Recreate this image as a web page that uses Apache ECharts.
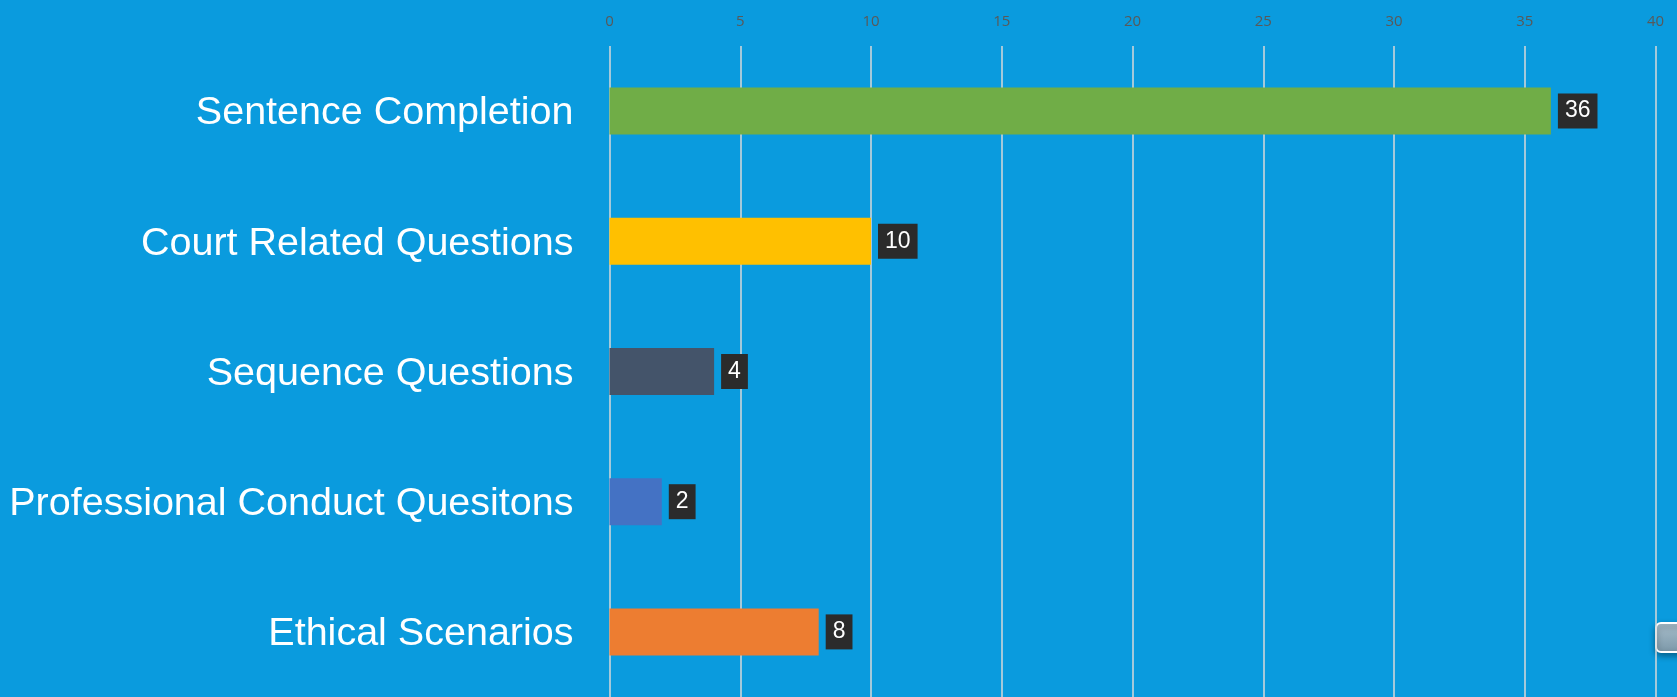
<!DOCTYPE html>
<html>
<head>
<meta charset="utf-8">
<script src="https://cdn.jsdelivr.net/npm/echarts@6/dist/echarts.min.js"></script>
<style>
html,body{margin:0;padding:0;background:#0a9bde;}
#chart{width:1677px;height:697px;}
</style>
</head>
<body>
<div id="chart"></div>
<script>
var categories = ['Sentence Completion', 'Court Related Questions', 'Sequence Questions', 'Professional Conduct Quesitons', 'Ethical Scenarios'];
var values = [36, 10, 4, 2, 8];
var barColors = ['#70ad47', '#ffc000', '#44546a', '#4472c4', '#ed7d31'];
var xTicks = [0, 5, 10, 15, 20, 25, 30, 35, 40];

var FONT = '"Liberation Sans", Arial, sans-serif';
var chart = echarts.init(document.getElementById('chart'));
chart.setOption({
  backgroundColor: '#0a9bde',
  animation: false,
  grid: { left: 609.5, right: 21.5, top: 46, bottom: -3, containLabel: false },
  xAxis: {
    type: 'value',
    position: 'top',
    min: xTicks[0],
    max: xTicks[xTicks.length - 1],
    interval: 5,
    axisLine: { show: false },
    axisTick: { show: false },
    axisLabel: { color: '#595959', fontSize: 15, fontFamily: '"Open Sans", sans-serif', margin: 17 },
    splitLine: { show: true, lineStyle: { color: '#d9d9d9', width: 1.5 } }
  },
  yAxis: {
    type: 'category',
    inverse: true,
    data: categories,
    axisLine: { show: false },
    axisTick: { show: false },
    axisLabel: {
      margin: 36,
      formatter: '{t|{value}}',
      rich: {
        t: { color: '#ffffff', fontSize: 39.5, fontFamily: FONT, lineHeight: 44, padding: [5, 0, 0, 0] }
      }
    }
  },
  series: [{
    type: 'bar',
    barWidth: 47,
    data: values.map(function (v, i) { return { value: v, itemStyle: { color: barColors[i] } }; }),
    label: {
      show: true,
      position: 'right',
      distance: 7,
      color: '#ffffff',
      fontSize: 23,
      lineHeight: 23,
      fontFamily: FONT,
      backgroundColor: '#2b2b2b',
      padding: [6, 7, 6, 7]
    }
  }],
  graphic: [{
    type: 'rect',
    shape: { x: 1656, y: 623, width: 40, height: 29, r: 5 },
    style: {
      fill: new echarts.graphic.LinearGradient(0, 0, 0, 1, [
        { offset: 0, color: '#a9bfcc' },
        { offset: 1, color: '#7b97a8' }
      ]),
      stroke: '#ffffff',
      lineWidth: 2,
      shadowBlur: 6,
      shadowColor: 'rgba(0,0,0,0.35)',
      shadowOffsetY: 3
    }
  }]
});
</script>
</body>
</html>
